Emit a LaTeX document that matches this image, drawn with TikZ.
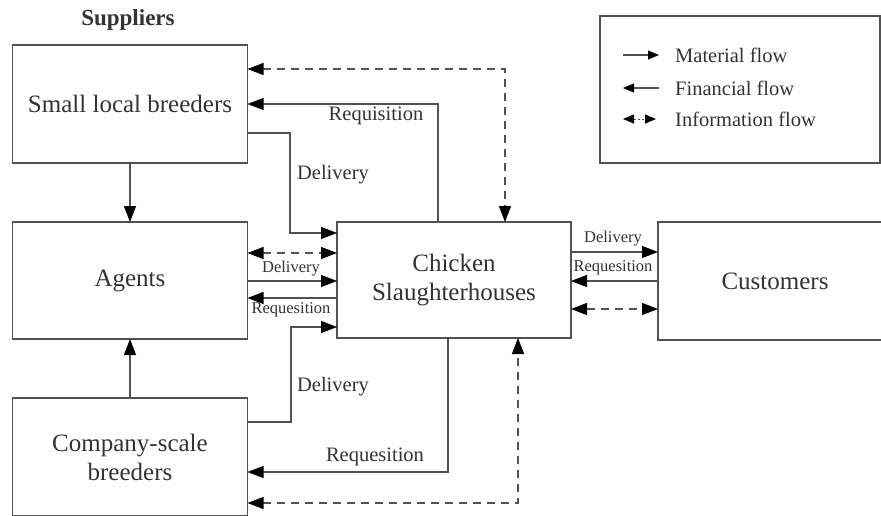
\documentclass[tikz,border=0pt]{standalone}
\usepackage{fontspec}
\setmainfont{Liberation Serif}
\usetikzlibrary{arrows.meta}
\definecolor{ln}{gray}{0.32}
\definecolor{tx}{gray}{0.2}
\tikzset{
  box/.style={draw=ln, line width=1.3pt, rectangle, inner sep=0pt, outer sep=0pt, align=center, text=tx, font=\fontsize{25}{29}\selectfont},
  flow/.style={draw=ln, line width=1.2pt},
  mat/.style={flow, -{Triangle[length=16pt,width=12pt,color=black]}},
  fin/.style={flow, {Triangle[length=16pt,width=12pt,color=black]}-},
  info/.style={flow, dash pattern=on 8pt off 6pt, {Triangle[length=16pt,width=12pt,color=black]}-{Triangle[length=16pt,width=12pt,color=black]}},
  lbl/.style={text=tx, inner sep=0pt, font=\fontsize{20.5}{24}\selectfont},
  slbl/.style={text=tx, inner sep=0pt, font=\fontsize{16.5}{19}\selectfont},
  leg/.style={text=tx, inner sep=0pt, anchor=west, font=\fontsize{20.5}{24}\selectfont},
  lmat/.style={flow, -{Triangle[length=11pt,width=9pt,color=black]}},
  lfin/.style={flow, {Triangle[length=11pt,width=9pt,color=black]}-},
  linfo/.style={flow, line width=0.8pt, dash pattern=on 2pt off 2pt, {Triangle[length=11pt,width=9pt,color=black]}-{Triangle[length=11pt,width=9pt,color=black]}}
}
\begin{document}
\begin{tikzpicture}[x=1pt,y=-1pt]
\useasboundingbox (0,0) rectangle (881,516);
\clip (0,0) rectangle (881,516);
% boxes
\node[box, minimum width=235pt, minimum height=118pt] (small) at (130,104) {Small local breeders};
\node[box, minimum width=235pt, minimum height=117pt] (agents) at (130,280.5) {Agents};
\node[box, minimum width=235pt, minimum height=118pt] (company) at (130,457) {Company-scale\\breeders};
\node[box, minimum width=234pt, minimum height=116pt] (sh) at (454,280) {Chicken\\Slaughterhouses};
\node[box, minimum width=260pt, minimum height=118pt] (cust) at (788,281) {\hspace*{-26pt}Customers};
\node[draw=ln, line width=1.3pt, rectangle, minimum width=280pt, minimum height=147pt, inner sep=0pt] (legend) at (740,89.5) {};
\node[text=tx, inner sep=0pt, font=\fontsize{23}{27}\selectfont\bfseries] (sup) at (128,20) {Suppliers};
% vertical supplier links
\draw[mat] (small.south) -- (agents.north);
\draw[mat] (company.north) -- (agents.south);
% small <-> slaughterhouses
\draw[info] (small.east |- 0,69) -| (sh.north -| 505,0);
\draw[fin] (small.east |- 0,104) -| (sh.north -| 438,0);
\draw[mat] (small.east |- 0,133) -| (290,233) -- (sh.west |- 0,233);
\node[lbl] (l1) at (376,116) {Requisition};
\node[lbl] (l2) at (333,175) {Delivery};
% agents <-> slaughterhouses
\draw[info] (agents.east |- 0,253) -- (sh.west |- 0,253);
\draw[mat] (agents.east |- 0,281) -- (sh.west |- 0,281);
\draw[fin] (agents.east |- 0,298) -- (sh.west |- 0,298);
\node[slbl] (l3) at (291,269) {Delivery};
\node[slbl] (l4) at (291,310) {Requesition};
% company <-> slaughterhouses
\draw[mat] (company.east |- 0,422) -| (291,327) -- (sh.west |- 0,327);
\draw[fin] (company.east |- 0,472) -| (sh.south -| 448,0);
\draw[info] (company.east |- 0,503) -| (sh.south -| 518,0);
\node[lbl] (l5) at (333,387) {Delivery};
\node[lbl] (l6) at (375,457) {Requesition};
% slaughterhouses <-> customers
\draw[mat] (sh.east |- 0,252) -- (cust.west |- 0,252);
\draw[fin] (sh.east |- 0,281) -- (cust.west |- 0,281);
\draw[info] (sh.east |- 0,309) -- (cust.west |- 0,309);
\node[slbl] (l7) at (613,239) {Delivery};
\node[slbl] (l8) at (613,268) {Requesition};
% legend
\coordinate (a1) at (623,55); \coordinate (b1) at (659,55);
\coordinate (a2) at (623,88); \coordinate (b2) at (659,88);
\coordinate (a3) at (623,119); \coordinate (b3) at (656,119);
\draw[lmat] (a1) -- (b1);
\draw[lfin] (a2) -- (b2);
\draw[linfo] (a3) -- (b3);
\node[leg] (t1) at (675,55) {Material flow};
\node[leg] (t2) at (675,88) {Financial flow};
\node[leg] (t3) at (675,119) {Information flow};
\end{tikzpicture}
\end{document}
